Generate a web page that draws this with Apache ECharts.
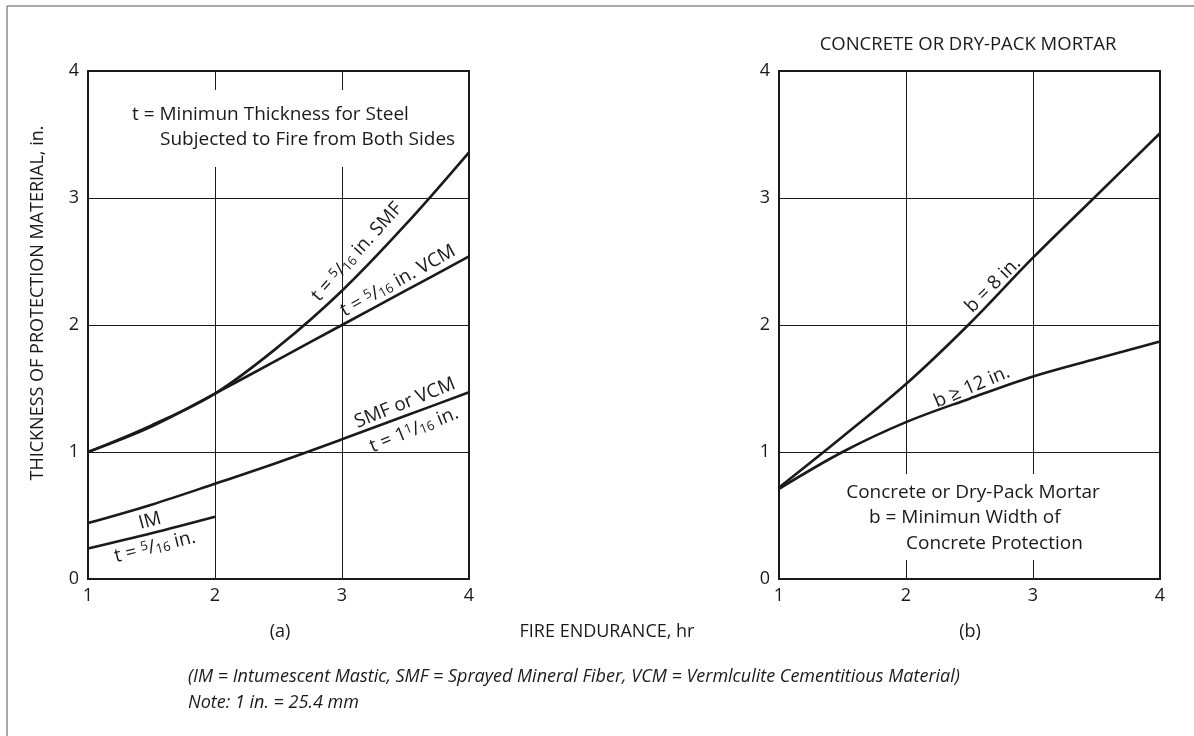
<!DOCTYPE html>
<html><head><meta charset="utf-8">
<script src="https://cdn.jsdelivr.net/npm/echarts@6/dist/echarts.min.js"></script>
<style>html,body{margin:0;padding:0;background:#fff}#c{width:1194px;height:736px}</style>
</head><body><div id="c"></div><script>
// ---- data ----
const hours = [1, 1.5, 2, 2.5, 3, 3.5, 4];
const smf516 = [1.0, 1.21, 1.46, 1.83, 2.27, 2.79, 3.36];
const vcm516 = [1.0, 1.2, 1.46, 1.73, 2.0, 2.27, 2.54];
const smfVcm1116 = [0.44, 0.585, 0.75, 0.92, 1.10, 1.285, 1.47];
const imHours = [1, 1.5, 2];
const im516 = [0.24, 0.36, 0.49];
const b8 = [0.72, 1.12, 1.535, 2.01, 2.53, 3.02, 3.51];
const b12 = [0.71, 1.0, 1.235, 1.42, 1.595, 1.735, 1.87];
const xTickLabels = ['1', '2', '3', '4'];
const yTickLabels = ['0', '1', '2', '3', '4'];

const FONT = '"Open Sans", "Noto Sans", sans-serif';
const INK = '#1a1a1a';
const pairs = (xs, ys) => xs.map((x, i) => [x, ys[i]]);

const chart = echarts.init(document.getElementById('c'), null, { renderer: 'canvas' });

function xAx(gi) {
  return {
    gridIndex: gi, type: 'value', min: 1, max: 4, interval: 1,
    axisLine: { show: true, lineStyle: { color: INK, width: 2 } },
    axisTick: { show: false },
    splitLine: { show: true, lineStyle: { color: INK, width: 1 } },
    axisLabel: { margin: 8, fontFamily: FONT, fontSize: 18, color: INK,
      formatter: v => xTickLabels[Math.round(v) - 1] }
  };
}
function yAx(gi) {
  return {
    gridIndex: gi, type: 'value', min: 0, max: 4, interval: 1,
    axisLine: { show: true, lineStyle: { color: INK, width: 2 } },
    axisTick: { show: false },
    splitLine: { show: true, lineStyle: { color: INK, width: 1 } },
    axisLabel: { margin: 9, fontFamily: FONT, fontSize: 18, color: INK,
      formatter: v => yTickLabels[Math.round(v)] }
  };
}
function line(name, xi, data) {
  return {
    name, type: 'line', xAxisIndex: xi, yAxisIndex: xi, data,
    smooth: 0.35, showSymbol: false, symbol: 'none',
    lineStyle: { color: INK, width: 2.6 }, z: 5, silent: true
  };
}

const rich = {
  n: { fontFamily: FONT, fontSize: 19, color: INK },
  sup: { fontFamily: FONT, fontSize: 13, color: INK, verticalAlign: 'top', lineHeight: 18 },
  sub: { fontFamily: FONT, fontSize: 13, color: INK, verticalAlign: 'bottom', lineHeight: 16 }
};
const deg = d => d * Math.PI / 180;
function rlabel(text, x, y, rot) {
  return { type: 'text', x, y, rotation: deg(rot), z: 10,
    style: { text, rich, align: 'center', verticalAlign: 'middle', fill: INK, font: '19px ' + FONT } };
}
function plain(text, x, y, align, size, extra) {
  return Object.assign({ type: 'text', x, y, z: 10,
    style: { text, align, verticalAlign: 'middle', fill: INK, font: size + 'px ' + FONT } }, extra || {});
}

chart.setOption({
  animation: false,
  backgroundColor: '#fff',
  grid: [
    { left: 88, top: 71, width: 381, height: 508, show: true, borderColor: INK, borderWidth: 2, backgroundColor: 'transparent' },
    { left: 779, top: 71, width: 381, height: 508, show: true, borderColor: INK, borderWidth: 2, backgroundColor: 'transparent' }
  ],
  xAxis: [xAx(0), xAx(1)],
  yAxis: [yAx(0), yAx(1)],
  series: [
    line('t = 5/16 in. SMF', 0, pairs(hours, smf516)),
    line('t = 5/16 in. VCM', 0, pairs(hours, vcm516)),
    line('SMF or VCM t = 1 1/16 in.', 0, pairs(hours, smfVcm1116)),
    line('IM t = 5/16 in.', 0, pairs(imHours, im516)),
    line('b = 8 in.', 1, pairs(hours, b8)),
    line('b ≥ 12 in.', 1, pairs(hours, b12))
  ],
  graphic: [
    { type: 'rect', shape: { x: 7, y: 6, width: 1210, height: 760 }, style: { fill: 'none', stroke: '#555', lineWidth: 1 }, z: 0 },
    // white boxes interrupting gridlines behind text
    { type: 'rect', shape: { x: 120, y: 90, width: 345, height: 77 }, style: { fill: '#fff' }, z: 1 },
    { type: 'rect', shape: { x: 840, y: 474, width: 265, height: 86 }, style: { fill: '#fff' }, z: 1 },
    // titles & notes
    plain('CONCRETE OR DRY-PACK MORTAR', 968, 45, 'center', 18.5),
    plain('THICKNESS OF PROTECTION MATERIAL, in.', 38, 303, 'center', 18, { rotation: deg(90) }),
    plain('(a)', 280, 632, 'center', 18),
    plain('FIRE ENDURANCE, hr', 607, 632, 'center', 18),
    plain('(b)', 970, 632, 'center', 18),
    { type: 'text', x: 188, y: 677, z: 10, style: { text: '(IM = Intumescent Mastic, SMF = Sprayed Mineral Fiber, VCM = Vermlculite Cementitious Material)', verticalAlign: 'middle', fill: INK, font: 'italic 18px ' + FONT } },
    { type: 'text', x: 188, y: 703, z: 10, style: { text: 'Note: 1 in. = 25.4 mm', verticalAlign: 'middle', fill: INK, font: 'italic 18px ' + FONT } },
    // in-plot notes
    plain('t = Minimun Thickness for Steel', 132, 115, 'left', 19),
    plain('Subjected to Fire from Both Sides', 160, 140, 'left', 19),
    plain('Concrete or Dry-Pack Mortar', 973, 493, 'center', 19),
    plain('b = Minimun Width of', 869, 518, 'left', 19),
    plain('Concrete Protection', 906, 544, 'left', 19),
    // curve labels
    rlabel('{n|t = }{sup|5}{n|/}{sub|16}{n| in. SMF}', 357, 252, 48),
    rlabel('{n|t = }{sup|5}{n|/}{sub|16}{n| in. VCM}', 398, 281, 29),
    rlabel('{n|SMF or VCM}', 405, 403, 22),
    rlabel('{n|t = 1}{sup|1}{n|/}{sub|16}{n| in.}', 414, 430, 22),
    rlabel('{n|IM}', 150, 521, 15),
    rlabel('{n|t = }{sup|5}{n|/}{sub|16}{n| in.}', 155, 547, 14),
    rlabel('{n|b = 8 in.}', 993, 285, 45),
    rlabel('{n|b ≥ 12 in.}', 972, 387, 23)
  ]
});
</script></body></html>
